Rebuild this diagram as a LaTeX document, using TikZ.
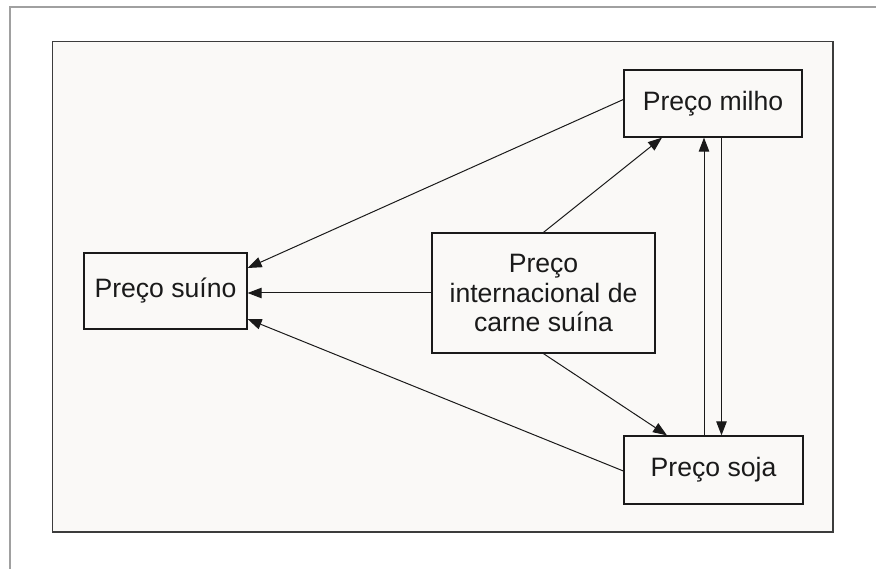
\documentclass[tikz,border=0pt]{standalone}
\usepackage{fontspec}
\setmainfont{Liberation Sans}
\usetikzlibrary{arrows.meta}
\definecolor{ink}{HTML}{1A1A1A}
\definecolor{panel}{HTML}{FAF9F7}
\definecolor{frame}{HTML}{A0A0A0}
\begin{document}
\begin{tikzpicture}[x=1pt,y=-1pt,
  box/.style={draw=ink,line width=1.3pt,fill=panel,inner sep=0pt,align=center,
    font=\fontsize{26.6}{29.5}\selectfont,text=ink},
  arr/.style={draw=ink,line width=1pt,-{Triangle[length=14pt,width=10.5pt]}}]
\useasboundingbox (0,0) rectangle (876,569);
% outer page frame (top and left edges)
\draw[frame,line width=2pt] (9.5,569) -- (9.5,7) -- (876,7);
% panel
\draw[draw=ink!85,line width=1.2pt,fill=panel] (52.5,41.5) rectangle (833,532);
% boxes
\node[box,minimum width=178pt,minimum height=67pt] (milho) at (713,103.5) {Preço milho};
\node[box,minimum width=179pt,minimum height=68pt] (soja) at (713.5,470) {Preço soja};
\node[box,minimum width=223pt,minimum height=120pt] (intl) at (543.5,293) {Preço\\internacional de\\carne suína};
\node[box,minimum width=163pt,minimum height=76pt] (suino) at (165.5,291) {Preço suíno};
% connectors
\draw[arr] ([yshift=4pt]milho.west) -- ([yshift=23pt]suino.east);
\draw[arr] (intl.west) -- (intl.west -| suino.east);
\draw[arr] ([yshift=-1pt]soja.west) -- ([yshift=-28pt]suino.east);
\draw[arr] (intl.north) -- ([xshift=-51pt]milho.south);
\draw[arr] (intl.south) -- ([xshift=-46.5pt]soja.north);
\draw[arr] ([xshift=-9.5pt]soja.north) -- ([xshift=-9.5pt]soja.north |- milho.south);
\draw[arr] ([xshift=8.5pt]milho.south) -- ([xshift=8.5pt]milho.south |- soja.north);
\end{tikzpicture}
\end{document}
